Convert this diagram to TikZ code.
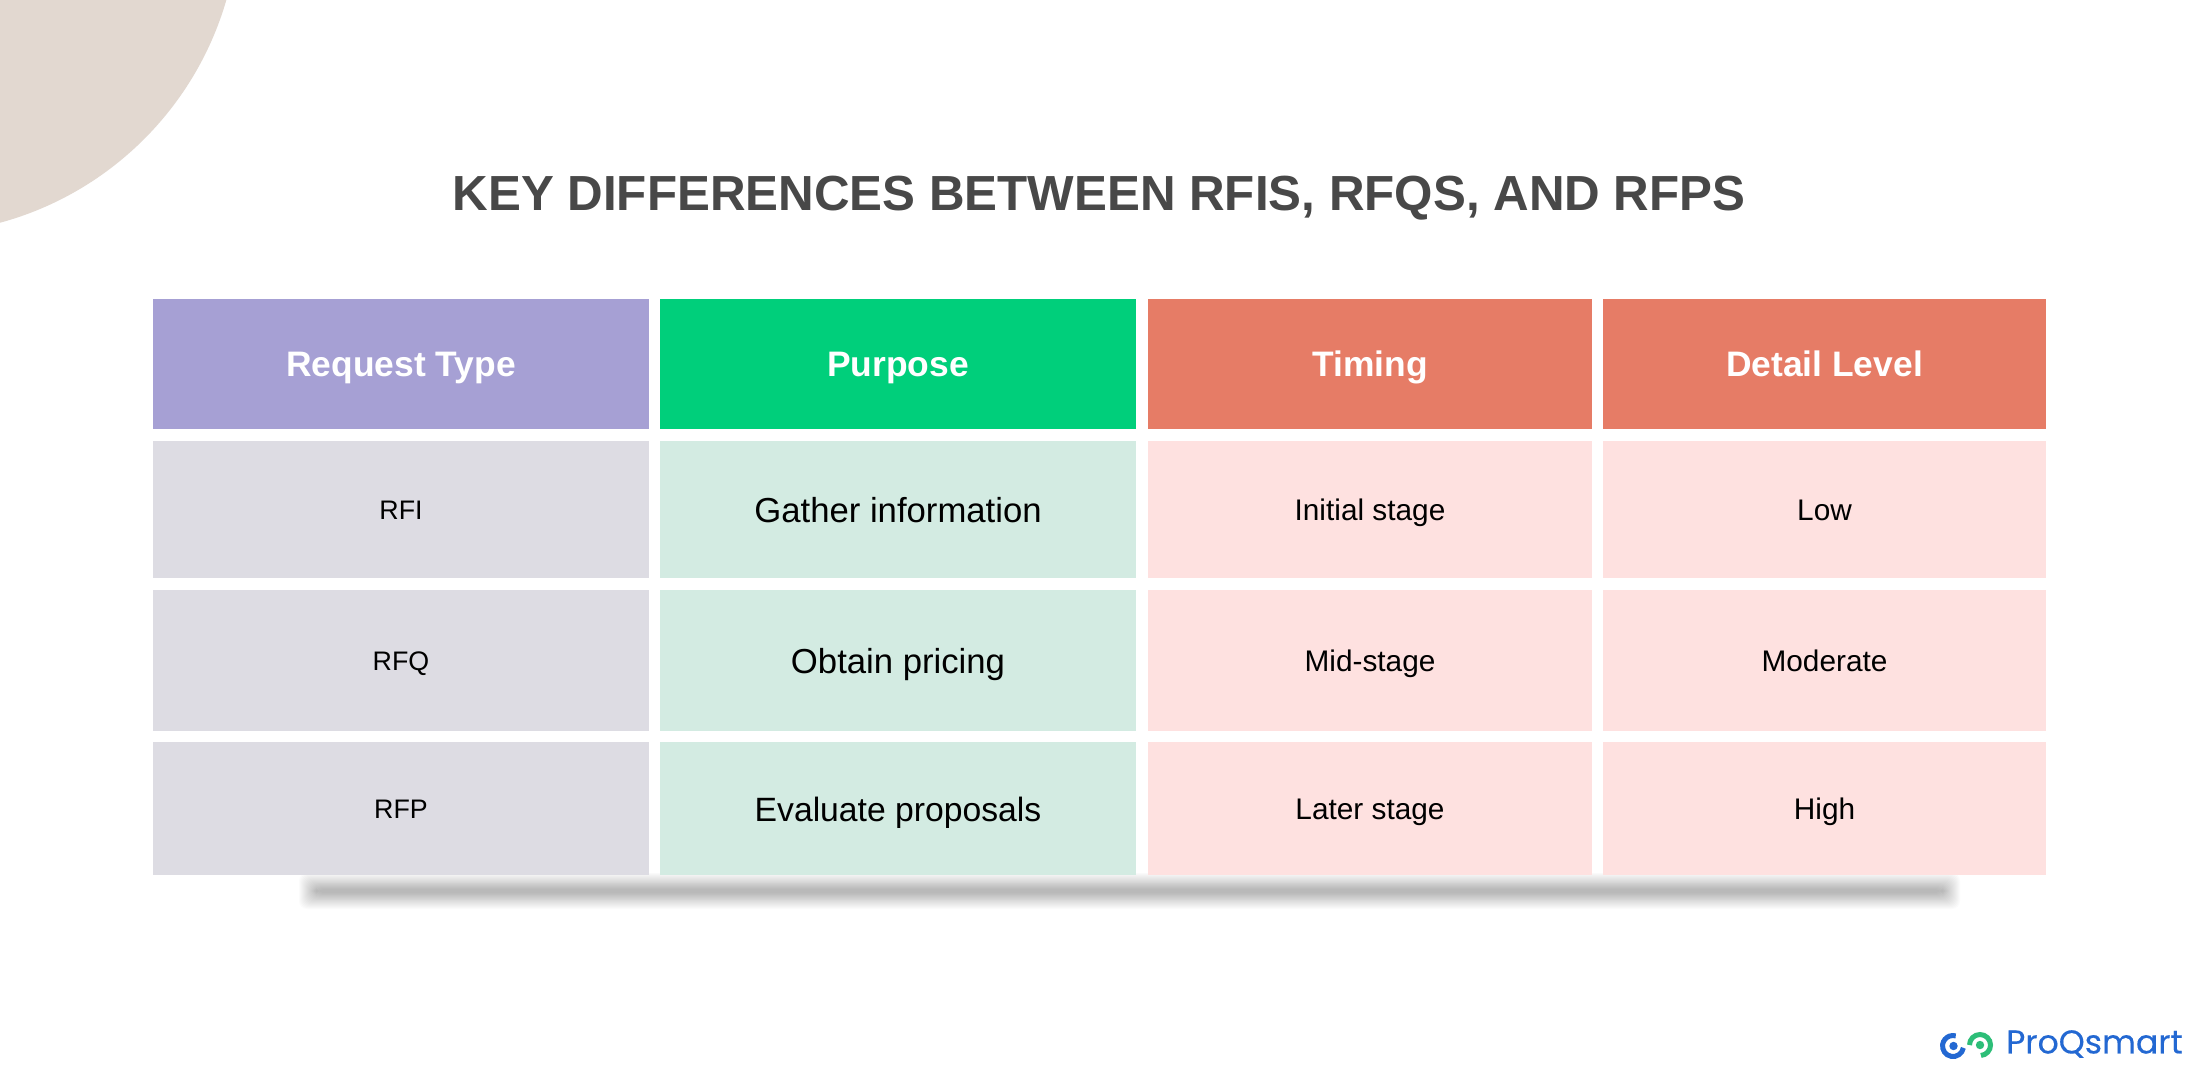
\documentclass[tikz,border=0pt]{standalone}
\usepackage{fontspec}
\setmainfont{Liberation Sans}
\newfontfamily\logofont{Poppins}[FakeBold=0.25]
\definecolor{titlegray}{HTML}{484848}
\definecolor{blob}{HTML}{E2D8D0}
\definecolor{purplehead}{HTML}{A6A0D4}
\definecolor{greenhead}{HTML}{00CF7B}
\definecolor{redhead}{HTML}{E67C66}
\definecolor{graycell}{HTML}{DDDCE3}
\definecolor{greencell}{HTML}{D3EBE2}
\definecolor{pinkcell}{HTML}{FEE1E0}
\definecolor{logoblue}{HTML}{2368D2}
\definecolor{logogreen}{HTML}{2DBE78}
\tikzset{
  x=1pt,y=-1pt,
  cell/.style={inner sep=0pt,outer sep=0pt,anchor=center,text depth=0pt},
  colA/.style={minimum width=496pt},
  colB/.style={minimum width=476pt},
  colC/.style={minimum width=444pt},
  colD/.style={minimum width=443pt},
  rowH/.style={minimum height=130pt},
  rowI/.style={minimum height=137pt},
  rowQ/.style={minimum height=141pt},
  rowP/.style={minimum height=133pt},
  headtext/.style={cell,text height=25.5pt,font=\fontsize{35.4}{38}\selectfont\bfseries,text=white},
  smalltext/.style={cell,text height=21.5pt,font=\fontsize{29.8}{34}\selectfont,text=black},
  typetext/.style={cell,text height=19.5pt,font=\fontsize{26.8}{32}\selectfont,text=black},
  bigtext/.style={cell,text height=25pt,font=\fontsize{34.7}{38}\selectfont,text=black},
  logoring/.style={line width=5pt},
}
\begin{document}
\begin{tikzpicture}
\useasboundingbox (0,0) rectangle (2199,1080);
\fill[white] (0,0) rectangle (2199,1080);
\begin{scope}
\clip (0,0) rectangle (2199,1080);
\fill[blob] (-85,-90) circle (324pt);
\end{scope}
% soft shadow
\foreach \g in {0,1,...,17}{
  \fill[black,opacity=0.015,rounded corners=8pt]
    ({299+\g*1.0},{873+\g*0.95}) rectangle ({1960-\g*1.0},{909-\g*0.95});
}
% title
\node[cell,text height=35.5pt,font=\fontsize{49.3}{56}\selectfont\bfseries,text=titlegray] (title) at (1099,193) {KEY DIFFERENCES BETWEEN RFIS, RFQS, AND RFPS};
% header row
\node[headtext,colA,rowH,fill=purplehead] (h1) at (401,364) {Request Type};
\node[headtext,colB,rowH,fill=greenhead] (h2) at (898,364) {Purpose};
\node[headtext,colC,rowH,fill=redhead] (h3) at (1370,364) {Timing};
\node[headtext,colD,rowH,fill=redhead] (h4) at (1824.5,364) {Detail Level};
% RFI row
\node[typetext,colA,rowI,fill=graycell] (r1a) at (401,509.5) {RFI};
\node[bigtext,colB,rowI,fill=greencell] (r1b) at (898,509.5) {Gather information};
\node[smalltext,colC,rowI,fill=pinkcell] (r1c) at (1370,509.5) {Initial stage};
\node[smalltext,colD,rowI,fill=pinkcell] (r1d) at (1824.5,509.5) {Low};
% RFQ row
\node[typetext,colA,rowQ,fill=graycell] (r2a) at (401,660.5) {RFQ};
\node[bigtext,colB,rowQ,fill=greencell] (r2b) at (898,660.5) {Obtain pricing};
\node[smalltext,colC,rowQ,fill=pinkcell] (r2c) at (1370,660.5) {Mid-stage};
\node[smalltext,colD,rowQ,fill=pinkcell] (r2d) at (1824.5,660.5) {Moderate};
% RFP row
\node[typetext,colA,rowP,fill=graycell] (r3a) at (401,808.5) {RFP};
\node[bigtext,colB,rowP,fill=greencell,font=\fontsize{33.7}{38}\selectfont] (r3b) at (898,808.5) {Evaluate proposals};
\node[smalltext,colC,rowP,fill=pinkcell] (r3c) at (1370,808.5) {Later stage};
\node[smalltext,colD,rowP,fill=pinkcell] (r3d) at (1824.5,808.5) {High};
% logo
\begin{scope}[shift={(1953,1046)}]
  \draw[logoblue,logoring] (-10:10.5pt) arc[start angle=-10,end angle=-285,radius=10.5pt];
  \fill[logoblue] (0.5pt,0pt) circle (4.2pt);
\end{scope}
\begin{scope}[shift={(1980,1045)}]
  \draw[logogreen,logoring] (180:10.5pt) arc[start angle=180,end angle=-85,radius=10.5pt];
  \fill[logogreen] (0pt,0pt) circle (4.2pt);
\end{scope}
\node[font=\logofont\fontsize{33}{36}\selectfont,text=logoblue,anchor=west,inner sep=0pt] (logo) at (2006,1044) {ProQsmart};
\end{tikzpicture}
\end{document}
